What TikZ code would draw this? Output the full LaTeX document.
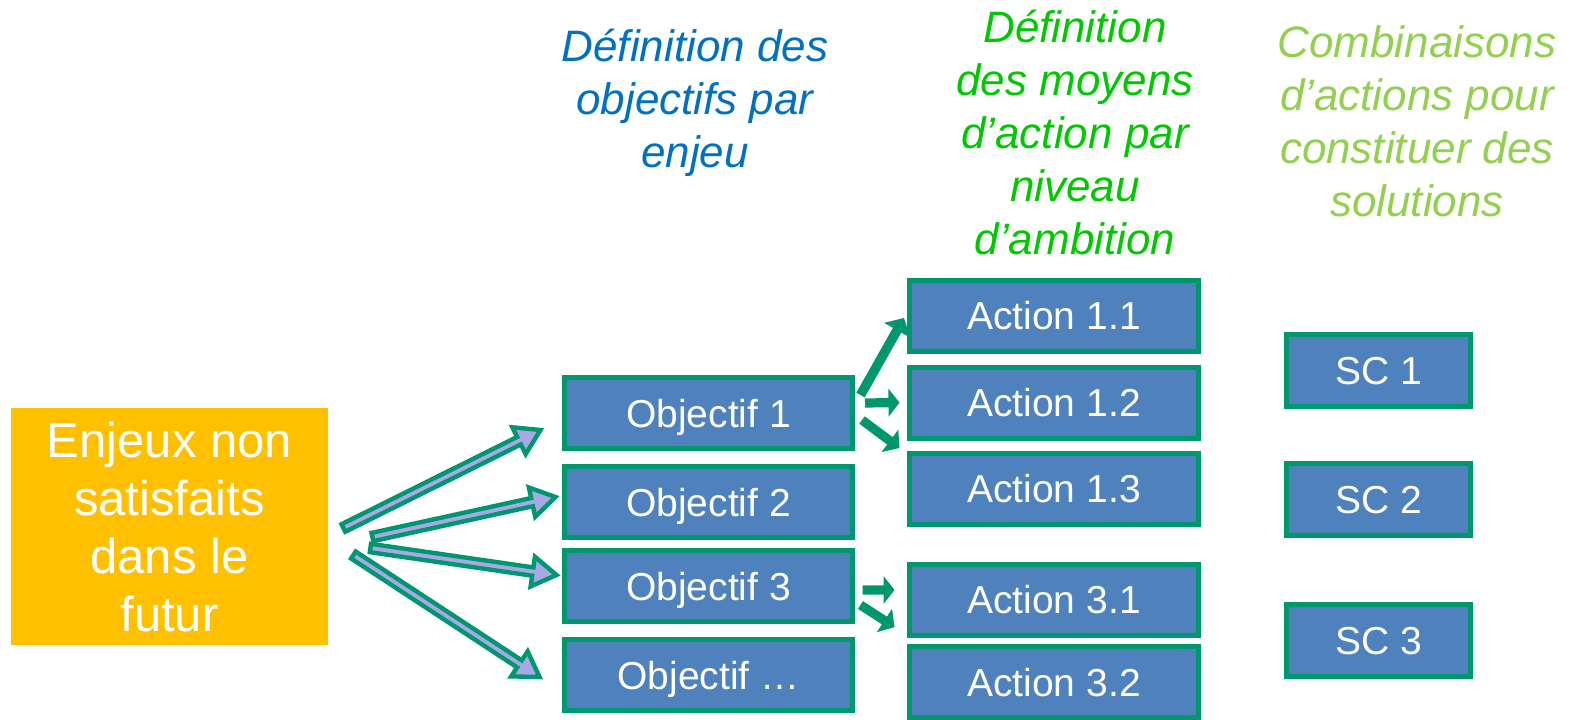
\documentclass[tikz,border=0pt]{standalone}
\usepackage{fontspec}
\setmainfont{Liberation Sans}
\usetikzlibrary{calc, positioning}

\definecolor{boxgreen}{RGB}{0,150,110}
\definecolor{boxblue}{RGB}{79,129,189}
\definecolor{enjeuorange}{RGB}{255,192,0}
\definecolor{arrowlav}{RGB}{168,168,230}
\definecolor{titleblue}{RGB}{0,112,192}
\definecolor{titlegreen}{RGB}{0,200,0}
\definecolor{titlelight}{RGB}{146,208,80}

\tikzset{
  bluebox/.style={draw=boxgreen, fill=boxblue, line width=2.5pt, text=white,
    font=\fontsize{19.5}{23}\selectfont, text height=14pt, text depth=0pt,
    inner sep=0pt, minimum height=35.5pt},
  objbox/.style={bluebox, minimum width=144pt},
  actbox/.style={bluebox, minimum width=144.5pt},
  scbox/.style={bluebox, minimum width=92pt, minimum height=36pt},
  headline/.style={anchor=north, align=center, inner sep=0pt,
    font=\fontsize{22}{26.5}\selectfont\itshape},
  lavarrow/.style={draw=boxgreen, fill=arrowlav, line width=2.2pt},
  greenarrow/.style={fill=boxgreen}
}

% block arrow: style, tail, tip, half shaft, half head, head length
\newcommand{\blockarrow}[6]{%
  \path[#1] let \p1=(#2), \p2=(#3), \n1={atan2(\y2-\y1,\x2-\x1)},
    \p3=($(\p2)+(\n1+180:#6)$) in
    ($(\p1)+(\n1+90:#4)$) -- ($(\p3)+(\n1+90:#4)$) -- ($(\p3)+(\n1+90:#5)$) -- (\p2)
    -- ($(\p3)+(\n1-90:#5)$) -- ($(\p3)+(\n1-90:#4)$) -- ($(\p1)+(\n1-90:#4)$) -- cycle;
}

\begin{document}
\begin{tikzpicture}[x=0.5pt, y=-0.5pt]
  \useasboundingbox (0,0) rectangle (1579,719);

  % titles
  \node [headline, text=titleblue] (ttlobj) at (695,29) {Définition des\\objectifs par\\enjeu};
  \node [headline, text=titlegreen] (ttlact) at (1075,10) {Définition\\des moyens\\d’action par\\niveau\\d’ambition};
  \node [headline, text=titlelight] (ttlsc) at (1417,25) {Combinaisons\\d’actions pour\\constituer des\\solutions};

  % enjeux
  \node [fill=enjeuorange, text=white, minimum width=158.5pt, minimum height=118.5pt,
    inner sep=0pt, align=center, font=\fontsize{24.5}{29}\selectfont] (enjeux) at (169.5,526.5)
    {Enjeux non\\satisfaits\\dans le\\futur};

  % objectifs
  \node [objbox] (obj1) at (708.5,413) {Objectif 1};
  \node [objbox] (obj2) at (708.5,502) {Objectif 2};
  \node [objbox] (obj3) at (708.5,586) {Objectif 3};
  \node [objbox] (obj4) at (708.5,675) {Objectif …};

  % actions
  \node [actbox] (act11) at (1054,315.5) {Action 1.1};
  \node [actbox] (act12) at (1054,402.5) {Action 1.2};
  \node [actbox] (act13) at (1054,488.5) {Action 1.3};
  \node [actbox] (act31) at (1054,599.5) {Action 3.1};
  \node [actbox] (act32) at (1054,682) {Action 3.2};

  % solutions
  \node [scbox] (sc1) at (1378.5,370.5) {SC 1};
  \node [scbox] (sc2) at (1378.5,499.5) {SC 2};
  \node [scbox] (sc3) at (1378.5,640) {SC 3};

  % enjeux -> objectifs
  \blockarrow{lavarrow}{[shift={(15,1.5)}]enjeux.east}{[shift={(-21.5,17)}]obj1.west}{2.1pt}{7.5pt}{12pt}
  \blockarrow{lavarrow}{[shift={(44,10.5)}]enjeux.east}{[shift={(-6.5,-5)}]obj2.west}{2.1pt}{7.5pt}{12pt}
  \blockarrow{lavarrow}{[shift={(42,21.5)}]enjeux.east}{[shift={(-5.5,-11)}]obj3.west}{2.1pt}{7.5pt}{12pt}
  \blockarrow{lavarrow}{[shift={(25,28.5)}]enjeux.east}{[shift={(-22.5,2)}]obj4.west}{2.1pt}{7.5pt}{12pt}

  % objectifs -> actions
  \blockarrow{greenarrow}{[shift={(5.5,-18)}]obj1.east}{[shift={(-3,2.5)}]act11.west}{2.4pt}{7.5pt}{7pt}
  \blockarrow{greenarrow}{[shift={(10,-10)}]obj1.east}{[shift={(-7.5,0)}]act12.west}{2.3pt}{7pt}{5.5pt}
  \blockarrow{greenarrow}{[shift={(7,7)}]obj1.east}{[shift={(-7.5,-40.5)}]act13.west}{2.3pt}{7pt}{6pt}
  \blockarrow{greenarrow}{[shift={(7.5,4)}]obj3.east}{[shift={(-12.5,-9.5)}]act31.west}{2.3pt}{7pt}{5.5pt}
  \blockarrow{greenarrow}{[shift={(5.5,19)}]obj3.east}{[shift={(-12.5,-55)}]act32.west}{2.3pt}{7pt}{6pt}
\end{tikzpicture}
\end{document}
